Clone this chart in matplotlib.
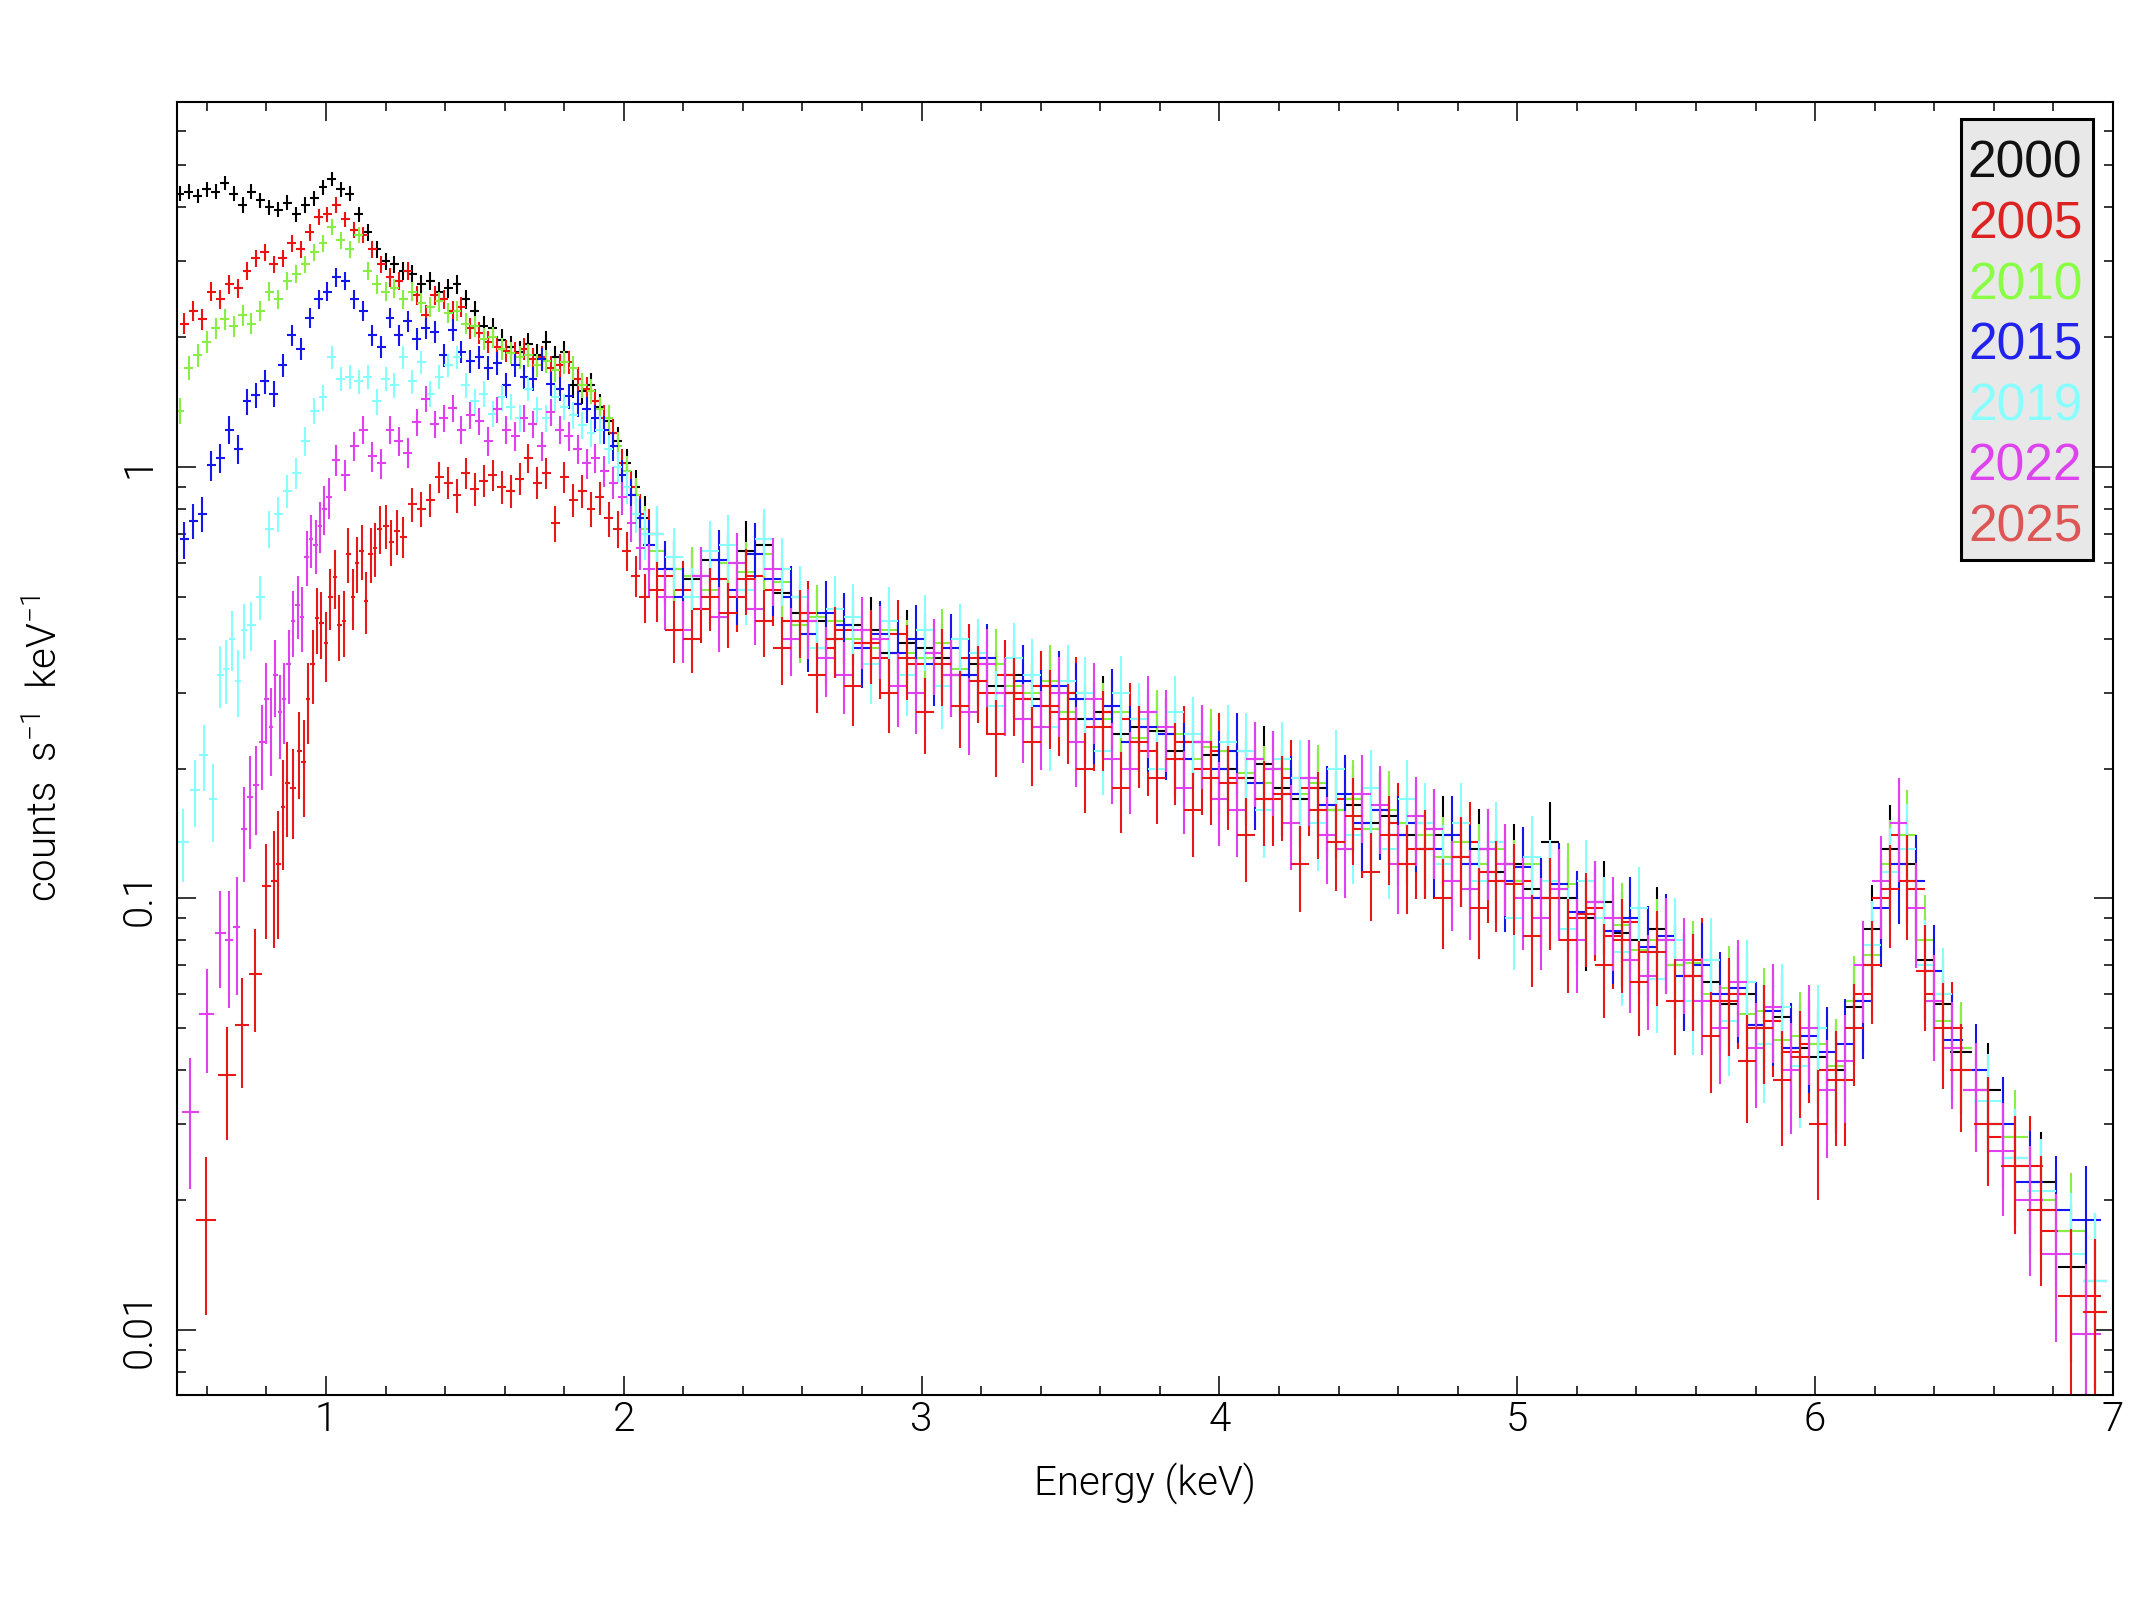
import numpy as np
import matplotlib
matplotlib.use("Agg")
import matplotlib.pyplot as plt
from matplotlib import font_manager
from matplotlib.ticker import LogLocator, NullFormatter, FuncFormatter, MultipleLocator
from matplotlib.patches import Rectangle

# channel energies (keV): two interleaved groupings
E_LO_A = [0.51, 0.54, 0.57, 0.60, 0.63, 0.66, 0.69, 0.72, 0.75, 0.78, 0.81, 0.84, 0.87, 0.90,
          0.93, 0.96, 0.99, 1.02, 1.05, 1.08, 1.11, 1.14, 1.17, 1.20, 1.23, 1.26, 1.29, 1.32,
          1.35, 1.38, 1.41, 1.44, 1.47, 1.50, 1.53, 1.56, 1.59, 1.62, 1.65, 1.68, 1.71, 1.74,
          1.77, 1.80, 1.83, 1.86, 1.89, 1.92, 1.95, 1.98, 2.01, 2.04, 2.07]
E_LO_B = [0.525, 0.555, 0.585, 0.615, 0.645, 0.675, 0.705, 0.735, 0.765, 0.795, 0.825, 0.855,
          0.885, 0.915, 0.945, 0.975, 1.005, 1.035, 1.065, 1.095, 1.125, 1.155, 1.185, 1.215,
          1.245, 1.275, 1.305, 1.335, 1.365, 1.395, 1.425, 1.455, 1.485, 1.515, 1.545, 1.575,
          1.605, 1.635, 1.665, 1.695, 1.725, 1.755, 1.785, 1.815, 1.845, 1.875, 1.905, 1.935,
          1.965, 1.995, 2.025, 2.055, 2.085]
E_HI_A = [2.11, 2.17, 2.23, 2.29, 2.35, 2.41, 2.47, 2.53, 2.59, 2.65, 2.71, 2.77, 2.83, 2.89,
          2.95, 3.01, 3.07, 3.13, 3.19, 3.25, 3.31, 3.37, 3.43, 3.49, 3.55, 3.61, 3.67, 3.73,
          3.79, 3.85, 3.91, 3.97, 4.03, 4.09, 4.15, 4.21, 4.27, 4.33, 4.39, 4.45, 4.51, 4.57,
          4.63, 4.69, 4.75, 4.81, 4.87, 4.93, 4.99, 5.05, 5.11, 5.17, 5.23, 5.29, 5.35, 5.41,
          5.47, 5.53, 5.59, 5.65, 5.71, 5.77, 5.83, 5.89, 5.95, 6.01, 6.07, 6.13, 6.19, 6.25,
          6.31, 6.37, 6.43, 6.49, 6.58, 6.67, 6.76, 6.86, 6.94]
E_HI_B = [2.14, 2.20, 2.26, 2.32, 2.38, 2.44, 2.50, 2.56, 2.62, 2.68, 2.74, 2.80, 2.86, 2.92,
          2.98, 3.04, 3.10, 3.16, 3.22, 3.28, 3.34, 3.40, 3.46, 3.52, 3.58, 3.64, 3.70, 3.76,
          3.82, 3.88, 3.94, 4.00, 4.06, 4.12, 4.18, 4.24, 4.30, 4.36, 4.42, 4.48, 4.54, 4.60,
          4.66, 4.72, 4.78, 4.84, 4.90, 4.96, 5.02, 5.08, 5.14, 5.20, 5.26, 5.32, 5.38, 5.44,
          5.50, 5.56, 5.62, 5.68, 5.74, 5.80, 5.86, 5.92, 5.98, 6.04, 6.10, 6.16, 6.22, 6.28,
          6.34, 6.40, 6.46, 6.54, 6.63, 6.72, 6.81, 6.91]

# faint epochs start with wider groups at low energy
E_LO_2019 = [0.52, 0.56, 0.59, 0.62, 0.645, 0.665, 0.685, 0.705, 0.725, 0.75, 0.78, 0.81,
             0.84, 0.87, 0.90, 0.93, 0.96]
E_LO_2022 = [0.545, 0.60, 0.645, 0.675, 0.70, 0.725, 0.745, 0.765, 0.785, 0.80, 0.815, 0.83,
             0.845, 0.86, 0.875, 0.89, 0.905, 0.92, 0.935, 0.95, 0.965, 0.98, 0.995, 1.01,
             1.035, 1.065, 1.095, 1.125]
E_LO_2025 = [0.597, 0.667, 0.717, 0.763, 0.80, 0.824, 0.84, 0.855, 0.87, 0.89, 0.91, 0.925,
             0.94, 0.955, 0.97, 0.985, 1.0, 1.015, 1.03, 1.045, 1.06, 1.075, 1.09, 1.105,
             1.12, 1.135, 1.15, 1.165, 1.18, 1.20, 1.22, 1.24, 1.26]

# count rates (counts s^-1 keV^-1)
Y2000_LO = [4.30, 4.35, 4.25, 4.40, 4.35, 4.55, 4.30, 4.05, 4.35, 4.15, 4.00, 3.95, 4.10, 3.85,
            4.05, 4.20, 4.45, 4.65, 4.40, 4.30, 3.85, 3.50, 3.20, 3.00, 2.95, 2.85, 2.80, 2.65,
            2.70, 2.55, 2.60, 2.65, 2.45, 2.30, 2.12, 2.10, 1.97, 1.90, 1.85, 1.93, 1.82, 1.95,
            1.80, 1.85, 1.55, 1.50, 1.55, 1.38, 1.28, 1.15, 1.02, 0.90, 0.76]
Y2000_HI = [0.70, 0.58, 0.55, 0.61, 0.60, 0.64, 0.66, 0.51, 0.46, 0.44,
            0.40, 0.43, 0.42, 0.37, 0.39, 0.38, 0.36, 0.33, 0.35, 0.31,
            0.33, 0.29, 0.31, 0.30, 0.26, 0.27, 0.24, 0.25, 0.245, 0.22,
            0.23, 0.215, 0.20, 0.19, 0.205, 0.18, 0.17, 0.18, 0.16, 0.165,
            0.15, 0.155, 0.14, 0.13, 0.14, 0.125, 0.13, 0.115, 0.12, 0.105,
            0.135, 0.10, 0.09, 0.098, 0.083, 0.08, 0.085, 0.07, 0.066, 0.064,
            0.057, 0.06, 0.05, 0.053, 0.045, 0.043, 0.04, 0.056, 0.085, 0.13,
            0.12, 0.072, 0.057, 0.044, 0.036, 0.025, 0.022, 0.014, 0.013]

Y2005_LO = [2.15, 2.30, 2.20, 2.55, 2.45, 2.65, 2.60, 2.85, 3.05, 3.15, 2.95, 3.05, 3.30, 3.20,
            3.50, 3.80, 3.85, 4.05, 3.75, 3.55, 3.45, 3.20, 2.95, 2.75, 2.70, 2.85, 2.50, 2.25,
            2.50, 2.45, 2.30, 2.35, 2.10, 2.05, 1.95, 1.90, 1.86, 1.84, 1.88, 1.78, 1.80, 1.70,
            1.72, 1.75, 1.60, 1.52, 1.42, 1.30, 1.20, 1.02, 0.90, 0.78, 0.70]
Y2005_HI = [0.56, 0.52, 0.47, 0.55, 0.50, 0.56, 0.52, 0.44, 0.46, 0.38,
            0.42, 0.39, 0.36, 0.41, 0.35, 0.37, 0.33, 0.36, 0.30, 0.33,
            0.29, 0.31, 0.27, 0.30, 0.25, 0.27, 0.26, 0.22, 0.24, 0.23,
            0.20, 0.22, 0.19, 0.21, 0.17, 0.19, 0.18, 0.16, 0.17, 0.145,
            0.16, 0.15, 0.13, 0.145, 0.125, 0.135, 0.115, 0.12, 0.11, 0.10,
            0.105, 0.09, 0.095, 0.082, 0.088, 0.075, 0.08, 0.066, 0.072, 0.058,
            0.06, 0.05, 0.052, 0.044, 0.046, 0.04, 0.038, 0.06, 0.10, 0.14,
            0.105, 0.06, 0.05, 0.036, 0.028, 0.024, 0.017, 0.012]

Y2010_LO = [1.35, 1.70, 1.82, 1.95, 2.10, 2.20, 2.12, 2.25, 2.15, 2.30, 2.55, 2.45, 2.70, 2.80,
            2.95, 3.15, 3.30, 3.60, 3.35, 3.20, 3.45, 2.85, 2.65, 2.55, 2.60, 2.45, 2.55, 2.40,
            2.35, 2.42, 2.28, 2.30, 2.15, 2.12, 1.98, 2.00, 1.88, 1.84, 1.80, 1.82, 1.72, 1.76,
            1.68, 1.75, 1.70, 1.55, 1.50, 1.36, 1.30, 1.12, 0.98, 0.86, 0.72]
Y2010_HI = [0.64, 0.58, 0.56, 0.52, 0.60, 0.57, 0.63, 0.54, 0.43, 0.45,
            0.44, 0.40, 0.38, 0.42, 0.37, 0.36, 0.39, 0.34, 0.32, 0.35,
            0.31, 0.30, 0.32, 0.27, 0.29, 0.26, 0.27, 0.235, 0.25, 0.24,
            0.21, 0.225, 0.22, 0.195, 0.185, 0.20, 0.175, 0.185, 0.16, 0.17,
            0.145, 0.16, 0.15, 0.14, 0.125, 0.135, 0.12, 0.13, 0.11, 0.12,
            0.10, 0.108, 0.092, 0.09, 0.087, 0.076, 0.08, 0.07, 0.071, 0.06,
            0.062, 0.054, 0.055, 0.047, 0.048, 0.046, 0.041, 0.058, 0.074, 0.12,
            0.14, 0.08, 0.052, 0.045, 0.03, 0.028, 0.02, 0.017, 0.011]

Y2015_LO = [0.68, 0.75, 0.78, 1.01, 1.05, 1.22, 1.10, 1.42, 1.47, 1.58, 1.48, 1.72, 2.02, 1.88,
            2.22, 2.45, 2.55, 2.75, 2.70, 2.45, 2.30, 2.02, 1.90, 2.22, 2.02, 2.18, 1.98, 2.10,
            2.06, 1.82, 2.08, 1.85, 1.76, 1.80, 1.70, 1.74, 1.55, 1.72, 1.62, 1.60, 1.78, 1.56,
            1.52, 1.46, 1.40, 1.36, 1.30, 1.22, 1.12, 0.96, 0.86, 0.76, 0.66]
Y2015_HI = [0.58, 0.50, 0.56, 0.61, 0.52, 0.63, 0.55, 0.50, 0.41, 0.46,
            0.43, 0.38, 0.41, 0.37, 0.40, 0.35, 0.38, 0.33, 0.36, 0.30,
            0.32, 0.28, 0.31, 0.29, 0.26, 0.28, 0.23, 0.25, 0.24, 0.21,
            0.23, 0.20, 0.22, 0.185, 0.20, 0.175, 0.19, 0.165, 0.175, 0.15,
            0.16, 0.14, 0.15, 0.13, 0.14, 0.12, 0.13, 0.11, 0.118, 0.10,
            0.108, 0.093, 0.098, 0.084, 0.09, 0.077, 0.082, 0.066, 0.07, 0.06,
            0.062, 0.051, 0.055, 0.045, 0.048, 0.044, 0.046, 0.058, 0.095, 0.12,
            0.11, 0.068, 0.047, 0.04, 0.03, 0.022, 0.019, 0.018]

Y2019_LO = [0.135, 0.178, 0.215, 0.17, 0.33, 0.34, 0.40, 0.32, 0.42, 0.43, 0.50, 0.72, 0.78,
            0.88, 0.97, 1.15, 1.35,
            1.45, 1.80, 1.60, 1.62, 1.58, 1.62, 1.42, 1.60, 1.55, 1.80, 1.58, 1.75, 1.48, 1.62,
            1.72, 1.80, 1.55, 1.42, 1.48, 1.33, 1.45, 1.38, 1.30, 1.52, 1.36, 1.30, 1.45, 1.38,
            1.32, 1.25, 1.20, 1.22, 1.10, 1.00, 0.90, 0.78, 0.70]
Y2019_HI = [0.70, 0.62, 0.50, 0.64, 0.66, 0.52, 0.68, 0.58, 0.50, 0.38,
            0.47, 0.45, 0.35, 0.44, 0.33, 0.42, 0.31, 0.40, 0.37, 0.28,
            0.36, 0.33, 0.25, 0.32, 0.30, 0.22, 0.30, 0.26, 0.20, 0.27,
            0.24, 0.19, 0.23, 0.22, 0.16, 0.21, 0.19, 0.15, 0.20, 0.14,
            0.18, 0.13, 0.17, 0.15, 0.12, 0.15, 0.11, 0.135, 0.09, 0.125,
            0.11, 0.085, 0.11, 0.09, 0.075, 0.095, 0.065, 0.08, 0.058, 0.072,
            0.052, 0.064, 0.046, 0.056, 0.041, 0.05, 0.038, 0.05, 0.078, 0.115,
            0.13, 0.07, 0.06, 0.04, 0.034, 0.025, 0.021, 0.015, 0.013]

Y2022_LO = [0.032, 0.054, 0.083, 0.080, 0.086, 0.145, 0.172, 0.183, 0.23, 0.29, 0.25, 0.33,
            0.27, 0.29, 0.35, 0.44, 0.48, 0.45, 0.62, 0.68, 0.66, 0.73, 0.80, 0.85, 1.04, 0.96,
            1.12, 1.22,
            1.06, 1.02, 1.22, 1.15, 1.08, 1.27, 1.44, 1.26, 1.30, 1.37, 1.22, 1.32, 1.28, 1.15,
            1.36, 1.22, 1.18, 1.30, 1.26, 1.12, 1.34, 1.22, 1.18, 1.10, 1.02, 1.05, 0.98, 0.92,
            0.85, 0.74, 0.65, 0.58]
Y2022_HI = [0.50, 0.42, 0.56, 0.45, 0.60, 0.47, 0.58, 0.40, 0.44, 0.36,
            0.33, 0.42, 0.40, 0.31, 0.30, 0.37, 0.33, 0.27, 0.35, 0.30,
            0.26, 0.25, 0.30, 0.23, 0.29, 0.21, 0.20, 0.27, 0.25, 0.18,
            0.23, 0.17, 0.16, 0.21, 0.20, 0.15, 0.19, 0.14, 0.13, 0.175,
            0.165, 0.12, 0.155, 0.145, 0.11, 0.105, 0.13, 0.12, 0.10, 0.09,
            0.105, 0.08, 0.098, 0.09, 0.072, 0.066, 0.08, 0.072, 0.058, 0.05,
            0.064, 0.045, 0.056, 0.04, 0.05, 0.036, 0.042, 0.07, 0.11, 0.15,
            0.095, 0.058, 0.045, 0.036, 0.026, 0.02, 0.015, 0.0098]

Y2025_LO = [0.018, 0.039, 0.051, 0.067, 0.107, 0.11, 0.12, 0.163, 0.185, 0.18, 0.22, 0.207,
            0.29, 0.35, 0.446, 0.436, 0.39, 0.50, 0.555, 0.43, 0.44, 0.63, 0.50, 0.60, 0.64,
            0.49, 0.63, 0.65, 0.72, 0.73, 0.67, 0.71, 0.69,
            0.82, 0.80, 0.84, 0.95, 0.92, 0.86, 0.97, 0.89, 0.93, 0.96, 0.90, 0.88, 0.94, 1.05,
            0.92, 0.97, 0.74, 0.95, 0.84, 0.88, 0.80, 0.85, 0.76, 0.72, 0.64, 0.56, 0.50]
Y2025_HI = [0.52, 0.42, 0.40, 0.50, 0.46, 0.55, 0.44, 0.38, 0.44, 0.33,
            0.40, 0.31, 0.39, 0.30, 0.36, 0.27, 0.35, 0.28, 0.32, 0.24,
            0.30, 0.23, 0.28, 0.26, 0.20, 0.25, 0.18, 0.23, 0.19, 0.21,
            0.16, 0.19, 0.185, 0.14, 0.17, 0.175, 0.12, 0.16, 0.135, 0.155,
            0.115, 0.14, 0.12, 0.13, 0.10, 0.125, 0.095, 0.11, 0.108, 0.082,
            0.10, 0.08, 0.092, 0.07, 0.08, 0.064, 0.075, 0.058, 0.066, 0.048,
            0.058, 0.042, 0.05, 0.038, 0.043, 0.03, 0.038, 0.05, 0.07, 0.105,
            0.11, 0.068, 0.05, 0.04, 0.03, 0.024, 0.019, 0.012, 0.011]

YEARS = ["2000", "2005", "2010", "2015", "2019", "2022", "2025"]
DATA_COLORS = ["#000000", "#ee1111", "#88ee44", "#1515ee", "#88ffff", "#e040f0", "#e81818"]
LABEL_COLORS = ["#111111", "#dd2222", "#88ff44", "#2222ee", "#88ffff", "#dd44ee", "#dd5555"]

spectra = {
    "2000": (E_LO_A + E_HI_A, Y2000_LO + Y2000_HI),
    "2005": (E_LO_B + E_HI_B, Y2005_LO + Y2005_HI),
    "2010": (E_LO_A + E_HI_A, Y2010_LO + Y2010_HI),
    "2015": (E_LO_B + E_HI_B, Y2015_LO + Y2015_HI),
    "2019": (E_LO_2019 + E_LO_A[16:] + E_HI_A, Y2019_LO + Y2019_HI),
    "2022": (E_LO_2022 + E_LO_B[21:] + E_HI_B, Y2022_LO + Y2022_HI),
    "2025": (E_LO_2025 + E_LO_A[26:] + E_HI_A, Y2025_LO + Y2025_HI),
}

EXPOSURE = 5000.0   # s, Poisson part of the error bars
# grouping floor on the fractional error above the Si edge
FLOOR_E = [0.5, 1.95, 2.1, 3.0, 5.0, 6.0, 7.0]
FLOOR_FRAC = [0.0, 0.0, 0.16, 0.20, 0.24, 0.26, 0.30]


def bin_errors(energy, rate):
    e = np.asarray(energy)
    r = np.asarray(rate)
    edges = np.concatenate(([e[0] - (e[1] - e[0]) / 2], (e[1:] + e[:-1]) / 2,
                            [e[-1] + (e[-1] - e[-2]) / 2]))
    half = np.diff(edges) / 2
    frac = 1 / np.sqrt(r * 2 * half * EXPOSURE)
    frac = np.maximum(frac, np.interp(e, FLOOR_E, FLOOR_FRAC))
    return half, r * frac


def pick_light_font():
    wanted = ["Roboto", "Open Sans", "Lato", "Inter", "Noto Sans", "DejaVu Sans"]
    for name in wanted:
        found = []
        for f in font_manager.fontManager.ttflist:
            if f.name != name or f.style != "normal":
                continue
            w = f.weight
            if isinstance(w, str):
                w = font_manager.weight_dict.get(w, 400)
            if w <= 300:
                found.append((abs(w - 300), w))
        if found:
            found.sort()
            return name, found[0][1]
    return "Liberation Sans", 400


font_name, font_weight = pick_light_font()
plt.rcParams["font.family"] = [font_name, "DejaVu Sans"]
plt.rcParams["font.weight"] = font_weight
plt.rcParams["axes.labelweight"] = font_weight
plt.rcParams["mathtext.fontset"] = "custom"
plt.rcParams["mathtext.rm"] = f"{font_name}:weight={font_weight}"
plt.rcParams["mathtext.it"] = f"{font_name}:weight={font_weight}"
plt.rcParams["mathtext.bf"] = f"{font_name}:weight={font_weight}"

fig = plt.figure(figsize=(21.33, 16), dpi=100)
ax = fig.add_axes([0.083, 0.128, 0.9076, 0.808])

for year, color in zip(YEARS, DATA_COLORS):
    energy, rate = spectra[year]
    assert len(energy) == len(rate), (year, len(energy), len(rate))
    half, err = bin_errors(energy, rate)
    ax.errorbar(energy, rate, xerr=half, yerr=err, fmt="none", ecolor=color,
                elinewidth=1.5, capsize=0)

ax.set_yscale("log")
ax.set_xlim(0.5, 7.0)
ax.set_ylim(0.00706, 7.0)

ax.xaxis.set_major_locator(MultipleLocator(1))
ax.xaxis.set_minor_locator(MultipleLocator(0.2))
ax.yaxis.set_major_locator(LogLocator(base=10, numticks=10))
ax.yaxis.set_minor_locator(LogLocator(base=10, subs=np.arange(2, 10), numticks=20))
ax.yaxis.set_minor_formatter(NullFormatter())
ax.yaxis.set_major_formatter(FuncFormatter(lambda v, p: f"{v:g}"))

ax.tick_params(which="both", direction="in", top=True, right=True, width=1.1, color="black")
ax.tick_params(which="major", length=13.5)
ax.tick_params(which="minor", length=6.8)
ax.tick_params(axis="x", labelsize=29, pad=4)
ax.tick_params(axis="y", labelsize=29, pad=13)
for lbl in ax.get_yticklabels():
    lbl.set_rotation(90)
    lbl.set_va("center")
for side in ax.spines.values():
    side.set_linewidth(1.5)

ax.set_xlabel("Energy (keV)", fontsize=29, fontweight=font_weight)
ax.xaxis.set_label_coords(0.5, -0.052)
ax.set_ylabel(r"counts  s$^{-1}$  keV$^{-1}$", fontsize=29, fontweight=font_weight)
ax.yaxis.set_label_coords(-0.058, 0.5)

# boxed year key at top right
fig.add_artist(Rectangle((0.9193, 0.65), 0.062, 0.2756, transform=fig.transFigure,
                         facecolor="#e8e8e8", edgecolor="black", linewidth=2.2, zorder=5))
for i, (year, color) in enumerate(zip(YEARS, LABEL_COLORS)):
    base = 178 + 60.6 * i
    fig.text(0.9494, 1 - base / 1600, year, color=color, ha="center", va="baseline",
             fontsize=37, family="Liberation Sans", weight="normal", zorder=6)

fig.savefig("out.png", dpi=100)
